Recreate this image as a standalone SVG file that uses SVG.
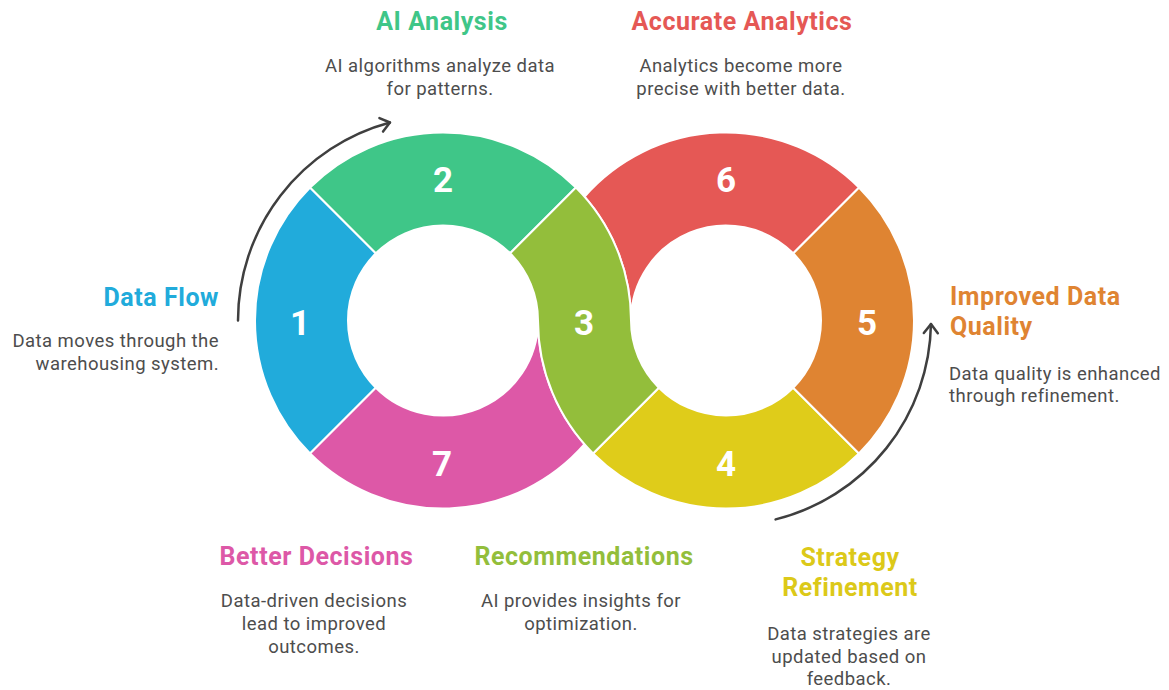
<svg xmlns="http://www.w3.org/2000/svg" width="1169" height="690" viewBox="0 0 1169 690">
<defs>
<style>
.seg{stroke:#fff;stroke-width:2;stroke-linejoin:round}
.num{font-family:Roboto,"Liberation Sans",sans-serif;font-weight:700;font-size:35px;fill:#fff;text-anchor:middle}
.ttl{font-family:Roboto,"Liberation Sans",sans-serif;font-weight:700;font-size:25px;letter-spacing:0.55px}
.dsc{font-family:Roboto,"Liberation Sans",sans-serif;font-size:18.5px;letter-spacing:0.45px;fill:#4d4d4d}
.arr{fill:none;stroke:#3f3f3f;stroke-width:2.5;stroke-linecap:round}
.c{text-anchor:middle}
.r{text-anchor:end}
</style>
<marker id="ah" viewBox="-12 -10 16 20" refX="0" refY="0" markerWidth="16" markerHeight="20" markerUnits="userSpaceOnUse" orient="auto" overflow="visible">
<path d="M-9,-7 L0,0 L-9,7" fill="none" stroke="#3f3f3f" stroke-width="2.5" stroke-linecap="round" stroke-linejoin="round"/>
</marker>
</defs>
<rect width="1169" height="690" fill="#fff"/>

<g id="connectors">
<path class="arr" d="M238,320.5 A205 205 0 0 1 389.94,122.49" marker-end="url(#ah)"/>
<path class="arr" d="M775.6,519.4 A205 205 0 0 0 930.97,324.1" marker-end="url(#ah)"/>
</g>

<g id="node1">
<path class="seg" fill="#21ABDB" d="M310.06,453.44 A188 188 0 0 1 310.06,187.56 L375.82,253.32 A95 95 0 0 0 375.82,387.68 Z"/>
<text class="num" x="300" y="334.5">1</text>
<text class="ttl r" x="219" y="306" fill="#21ABDB">Data Flow</text>
<text class="dsc r" x="219" y="347">Data moves through the</text>
<text class="dsc r" x="219" y="370">warehousing system.</text>
</g>

<g id="node2">
<path class="seg" fill="#3FC688" d="M310.06,187.56 A188 188 0 0 1 575.94,187.56 L510.18,253.32 A95 95 0 0 0 375.82,253.32 Z"/>
<text class="num" x="443" y="192">2</text>
<text class="ttl c" x="442" y="30" fill="#3FC688">AI Analysis</text>
<text class="dsc c" x="440" y="72">AI algorithms analyze data</text>
<text class="dsc c" x="440" y="94.5">for patterns.</text>
</g>

<g id="node4">
<path class="seg" fill="#DFCC1A" d="M858.94,453.44 A188 188 0 0 1 593.06,453.44 L658.82,387.68 A95 95 0 0 0 793.18,387.68 Z"/>
<text class="num" x="726" y="476">4</text>
<text class="ttl c" x="850" y="566" fill="#DCC919">Strategy</text>
<text class="ttl c" x="850" y="596" fill="#DCC919">Refinement</text>
<text class="dsc c" x="849" y="640">Data strategies are</text>
<text class="dsc c" x="849" y="662.5">updated based on</text>
<text class="dsc c" x="849" y="685">feedback.</text>
</g>

<g id="node5">
<path class="seg" fill="#DF8432" d="M858.94,187.56 A188 188 0 0 1 858.94,453.44 L793.18,387.68 A95 95 0 0 0 793.18,253.32 Z"/>
<text class="num" x="867" y="334.5">5</text>
<text class="ttl" x="950" y="305" fill="#DF8432">Improved Data</text>
<text class="ttl" x="950" y="335" fill="#DF8432">Quality</text>
<text class="dsc" x="949" y="380">Data quality is enhanced</text>
<text class="dsc" x="949" y="402">through refinement.</text>
</g>

<g id="node6">
<path class="seg" fill="#E55855" d="M584.5,196.72 A188 188 0 0 1 858.94,187.56 L793.18,253.32 A95 95 0 0 0 631,320.5 A188 188 0 0 0 584.5,196.72 Z"/>
<text class="num" x="726" y="192">6</text>
<text class="ttl c" x="742" y="30" fill="#E55855">Accurate Analytics</text>
<text class="dsc c" x="741" y="72">Analytics become more</text>
<text class="dsc c" x="741" y="94.5">precise with better data.</text>
</g>

<g id="node7">
<path class="seg" fill="#DD58A7" d="M584.5,444.28 A188 188 0 0 1 310.06,453.44 L375.82,387.68 A95 95 0 0 0 538,320.5 A188 188 0 0 0 584.5,444.28 Z"/>
<text class="num" x="442" y="476">7</text>
<text class="ttl c" x="316.5" y="565" fill="#DD58A7">Better Decisions</text>
<text class="dsc c" x="314" y="607">Data-driven decisions</text>
<text class="dsc c" x="314" y="630">lead to improved</text>
<text class="dsc c" x="314" y="653">outcomes.</text>
</g>

<g id="node3">
<path class="seg" fill="#93BE3B" d="M510.18,253.32 A95 95 0 0 1 538,320.5 A188 188 0 0 0 593.06,453.44 L658.82,387.68 A95 95 0 0 1 631,320.5 A188 188 0 0 0 575.94,187.56 Z"/>
<text class="num" x="584" y="334.5">3</text>
<text class="ttl c" x="584" y="565" fill="#93BE3B">Recommendations</text>
<text class="dsc c" x="581" y="607">AI provides insights for</text>
<text class="dsc c" x="581" y="630">optimization.</text>
</g>
</svg>
